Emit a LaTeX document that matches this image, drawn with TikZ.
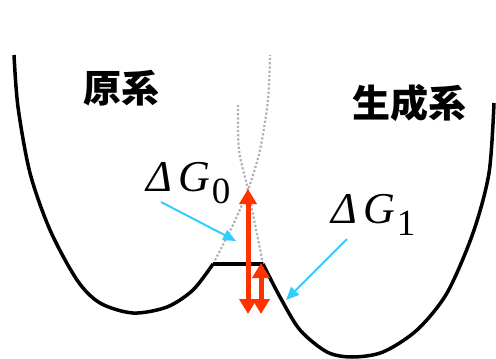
\documentclass[tikz,border=0pt]{standalone}
\usepackage{fontspec}
\newfontfamily\cjk{Noto Sans CJK JP}
\newfontfamily\lserif{Liberation Serif}
\usetikzlibrary{arrows.meta}
\definecolor{redarrow}{HTML}{FF3300}
\definecolor{bluearrow}{HTML}{33CCFF}
\tikzset{
  curve/.style={line width=3.5pt, line join=round},
  ghost/.style={gray!60, line width=2.2pt, dotted},
  redarr/.style={redarrow, line width=5pt, {Triangle[width=17pt,length=15pt]}-{Triangle[width=17pt,length=15pt]}},
  bluearr/.style={bluearrow, line width=2pt, -{Triangle[width=11pt,length=13pt]}},
  jlabel/.style={font=\cjk\bfseries\fontsize{38}{38}\selectfont, inner sep=0pt},
  glabel/.style={font=\lserif\fontsize{44}{44}\selectfont, inner sep=0pt, anchor=base west}
}
\newcommand{\subdig}[1]{\hspace{2pt}\raisebox{-12pt}{\upshape\fontsize{37}{37}\selectfont #1}}
\newcommand{\dG}[1]{\itshape Δ\hspace{6pt}G\subdig{#1}}
\begin{document}
\begin{tikzpicture}[x=1pt,y=-1pt]
\useasboundingbox (0,0) rectangle (496,359);
% ghost continuations
\draw[ghost] plot[smooth] coordinates {(213,264) (232,227) (248,190) (260,150) (268,100) (270,55)};
\draw[ghost] plot[smooth] coordinates {(263,264) (248,190) (239,150) (238,105)};
% potential curves
\draw[curve] plot[smooth] coordinates {(14,55) (18,107) (30,173) (50,230) (77,280) (100,303) (133,313) (167,307) (193,290) (213,264)};
\coordinate (bl) at (213,264);
\coordinate (br) at (263,264);
\draw[curve] (bl) -- (br);
\draw[curve] plot[smooth] coordinates {(263,264) (280,297) (300,330) (327,352) (352,357) (383,352) (417,330) (447,293) (473,233) (489,173) (494,103)};
% red arrows
\coordinate (r0t) at (248,189);
\coordinate (r0b) at (248,314);
\coordinate (r1t) at (261,263);
\coordinate (r1b) at (261,314);
\draw[redarr] (r0b) -- (r0t);
\draw[redarr] (r1b) -- (r1t);
% labels
\node[jlabel] (gen) at (121,88) {原系};
\node[jlabel] (sei) at (409,103) {生成系};
\node[glabel] (g0) at (146,191) {\dG{0}};
\node[glabel] (g1) at (331,223) {\dG{1}};
% blue arrows
\coordinate (b0s) at (161,202);
\coordinate (b0e) at (236,241);
\coordinate (b1s) at (347,239);
\coordinate (b1e) at (286,300);
\draw[bluearr] (b0s) -- (b0e);
\draw[bluearr] (b1s) -- (b1e);
\end{tikzpicture}
\end{document}
